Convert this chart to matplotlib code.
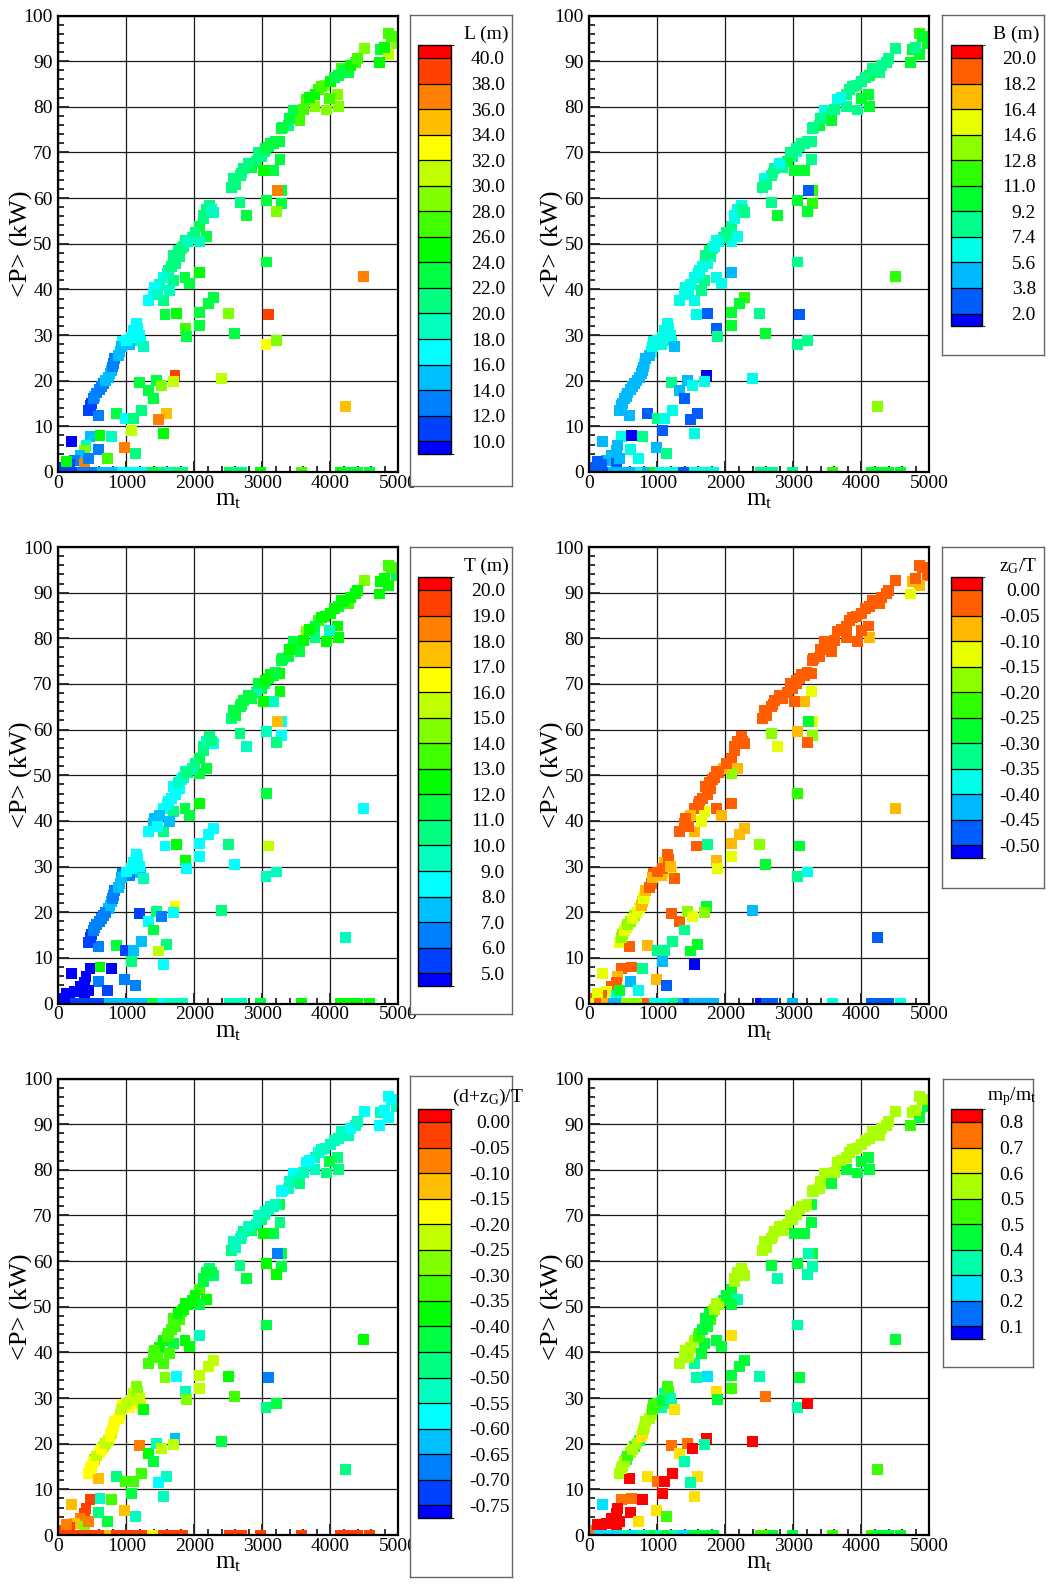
import numpy as np
import matplotlib
matplotlib.use('Agg')
import matplotlib.pyplot as plt
from matplotlib.colors import ListedColormap, BoundaryNorm, hsv_to_rgb
from matplotlib.cm import ScalarMappable
from matplotlib.ticker import MultipleLocator

plt.rcParams['font.family'] = ['Liberation Serif', 'DejaVu Sans']
plt.rcParams['mathtext.default'] = 'regular'

# ---------------- data ----------------
m_t = [4853, 4975, 4500, 4745, 4853, 4720, 4368, 4265, 4167, 4118,
       4108, 4118, 3995, 3946, 3922, 3824, 3775, 3652, 3775, 3456,
       3554, 3554, 3382, 3284, 3260, 3162, 3088, 3039, 2990, 2917,
       3260, 2843, 2721, 2682, 2574, 2549, 3162, 3015, 2672, 2770,
       3064, 3284, 3226, 3284, 3211, 2279, 2230, 2132, 2083, 2181,
       2083, 1975, 1863, 1814, 1779, 1730, 1618, 1544, 1691, 1485,
       1397, 1324, 1544, 1642, 2083, 1863, 1936, 3064, 2279, 2206,
       2083, 1569, 1740, 2500, 3088, 2083, 1873, 1887, 2588, 3054,
       3211, 4495, 1152, 1103, 1128, 1211, 1250, 946, 1054, 907,
       809, 784, 735, 662, 603, 539, 490, 441, 588, 1201,
       1324, 1446, 1520, 1397, 1716, 1691, 2402, 858, 995, 1103,
       1226, 1593, 1480, 1079, 1549, 4230, 196, 466, 613, 784,
       407, 392, 598, 980, 1137, 725, 319, 245, 172, 74,
       392, 123, 441,
       50, 150, 250, 350, 450, 550, 650, 750, 850, 950, 1050, 1150, 1250, 1380,
       1450, 1550, 1650, 1750, 1830, 2520, 2600, 2700, 2980, 3570, 4150, 4250, 4400, 4570,
       470, 515, 560, 630, 700, 760, 800, 830, 880, 930, 1000, 1080, 1170, 1190,
       1420, 1460, 1600, 1660, 1700, 1760, 1840, 1900, 2010, 2130, 2180, 2250,
       2600, 2700, 2800, 2950, 3050, 3120, 3200, 3300, 3400, 3600, 3700, 3870, 4000, 4060,
       4200, 4300, 4400, 4800, 4900]

P_kW = [96.0, 93.8, 92.7, 92.5, 91.5, 89.7, 89.8, 87.6, 88.3, 86.9,
        82.7, 80.1, 81.8, 79.3, 84.7, 83.8, 82.6, 81.6, 80.1, 79.3,
        78.6, 77.0, 75.9, 75.2, 72.3, 71.9, 71.2, 70.1, 69.1, 68.1,
        68.4, 66.8, 66.4, 65.0, 64.2, 62.4, 66.1, 66.1, 59.1, 56.2,
        59.5, 61.7, 61.7, 58.8, 57.1, 56.9, 58.4, 56.2, 53.7, 51.5,
        50.4, 51.4, 50.8, 49.0, 47.1, 45.7, 44.2, 42.7, 42.0, 41.1,
        39.4, 37.6, 37.6, 39.8, 43.8, 42.7, 41.2, 46.0, 38.3, 37.0,
        35.0, 34.5, 34.8, 34.8, 34.5, 32.1, 31.4, 29.6, 30.4, 27.9,
        28.8, 42.8, 32.6, 31.0, 29.6, 28.7, 27.4, 28.5, 28.0, 26.3,
        23.7, 22.3, 20.8, 19.3, 18.0, 16.6, 15.1, 13.4, 12.4, 19.7,
        17.9, 20.1, 19.0, 16.1, 21.2, 19.9, 20.4, 12.8, 11.7, 11.7,
        13.5, 12.9, 11.5, 9.1, 8.5, 14.4, 6.6, 7.7, 8.0, 7.7,
        5.9, 4.7, 4.9, 5.3, 4.0, 2.9, 3.7, 2.6, 1.7, 1.1,
        1.8, 2.2, 2.9,
        0, 0, 0, 0, 0, 0, 0, 0, 0, 0, 0, 0, 0, 0,
        0, 0, 0, 0, 0, 0, 0, 0, 0, 0, 0, 0, 0, 0,
        14.5, 16.0, 17.3, 18.7, 20.0, 21.5, 23.0, 24.8, 25.5, 27.5, 28.8, 29.5, 31.5, 30.0,
        40.5, 38.8, 43.5, 45.0, 47.5, 48.5, 49.5, 50.5, 52.5, 55.5, 57.5, 57.5,
        63.0, 65.5, 67.5, 70.0, 70.8, 72.0, 72.5, 75.5, 77.5, 79.5, 82.0, 84.5, 85.5, 86.5,
        88.0, 89.0, 90.5, 93.0, 95.5]

L_m = [27, 29, 29, 23, 31, 25, 27, 23, 27, 23,
       29, 29, 27, 29, 29, 27, 25, 27, 29, 23,
       23, 27, 21, 23, 23, 23, 23, 21, 21, 21,
       23, 23, 21, 21, 21, 21, 23, 25, 21, 23,
       23, 23, 37, 23, 29, 19, 21, 21, 23, 23,
       19, 19, 21, 21, 21, 21, 21, 17, 21, 19,
       17, 17, 21, 19, 25, 23, 23, 23, 23, 23,
       23, 23, 25, 29, 39, 23, 27, 23, 23, 33,
       29, 37, 17, 17, 19, 19, 19, 17, 15, 15,
       13, 15, 15, 13, 13, 15, 11, 11, 13, 23,
       23, 23, 29, 23, 39, 31, 31, 23, 17, 21,
       21, 35, 37, 31, 25, 35, 9, 15, 25, 19,
       19, 29, 13, 37, 21, 27, 15, 13, 11, 11,
       37, 25, 13,
       11, 11, 11, 13, 13, 13, 15, 15, 15, 17, 17, 17, 17, 23,
       23, 21, 19, 21, 21, 23, 21, 21, 25, 27, 25, 23, 23, 23,
       11, 13, 13, 13, 15, 15, 13, 13, 15, 15, 17, 17, 17, 17,
       17, 19, 19, 21, 21, 21, 21, 19, 21, 21, 21, 19,
       21, 21, 21, 21, 23, 23, 23, 23, 23, 27, 25, 27, 25, 23,
       23, 25, 27, 25, 27]

B_m = [11.9, 10.1, 8.3, 10.1, 10.1, 10.1, 8.3, 8.3, 8.3, 10.1,
       10.1, 10.1, 10.1, 8.3, 8.3, 8.3, 8.3, 6.5, 8.3, 6.5,
       8.3, 10.1, 10.1, 8.3, 8.3, 8.3, 8.3, 6.5, 8.3, 10.1,
       8.3, 8.3, 8.3, 8.3, 6.5, 8.3, 10.1, 10.1, 8.3, 10.1,
       10.1, 11.9, 2.9, 11.9, 10.1, 8.3, 6.5, 6.5, 8.3, 6.5,
       6.5, 8.3, 6.5, 8.3, 8.3, 6.5, 6.5, 6.5, 8.3, 6.5,
       6.5, 6.5, 6.5, 8.3, 4.7, 6.5, 6.5, 8.3, 11.9, 10.1,
       10.1, 6.5, 2.9, 8.3, 2.9, 10.1, 2.9, 8.3, 10.1, 8.3,
       8.3, 11.9, 6.5, 6.5, 8.3, 8.3, 4.7, 6.5, 6.5, 6.5,
       6.5, 4.7, 4.7, 4.7, 4.7, 4.7, 4.7, 4.7, 4.7, 8.3,
       4.7, 4.7, 6.5, 2.9, 1.5, 6.5, 6.5, 2.9, 8.3, 6.5,
       6.5, 2.9, 2.9, 2.9, 6.5, 13.7, 4.7, 6.5, 1.5, 8.3,
       4.7, 4.7, 6.5, 4.7, 8.3, 6.5, 4.7, 4.7, 2.9, 2.9,
       2.9, 2.9, 4.7,
       2.9, 2.9, 2.9, 4.7, 4.7, 4.7, 4.7, 6.5, 4.7, 10.1, 6.5, 6.5, 6.5, 2.9,
       2.9, 6.5, 6.5, 6.5, 6.5, 8.3, 8.3, 8.3, 8.3, 11.9, 10.1, 10.1, 10.1, 10.1,
       4.7, 4.7, 4.7, 4.7, 4.7, 4.7, 4.7, 4.7, 4.7, 6.5, 6.5, 6.5, 6.5, 6.5,
       6.5, 6.5, 6.5, 6.5, 8.3, 8.3, 6.5, 6.5, 8.3, 6.5, 6.5, 8.3,
       8.3, 8.3, 6.5, 8.3, 8.3, 8.3, 8.3, 8.3, 8.3, 8.3, 6.5, 8.3, 8.3, 8.3,
       8.3, 8.3, 8.3, 8.3, 10.1]

T_m = [13.5, 11.5, 14.5, 12.5, 12.5, 12.5, 12.5, 13.5, 12.5, 11.5,
       12.5, 12.5, 9.5, 12.5, 12.5, 13.5, 11.5, 14.5, 10.5, 11.5,
       11.5, 11.5, 11.5, 11.5, 12.5, 11.5, 11.5, 10.5, 11.5, 9.5,
       12.5, 11.5, 11.5, 11.5, 11.5, 10.5, 9.5, 12.5, 10.5, 9.5,
       9.5, 8.5, 17.5, 8.5, 10.5, 8.5, 10.5, 10.5, 11.5, 11.5,
       11.5, 9.5, 9.5, 8.5, 8.5, 8.5, 8.5, 8.5, 10.5, 7.5,
       7.5, 8.5, 10.5, 7.5, 12.5, 11.5, 11.5, 11.5, 8.5, 8.5,
       8.5, 8.5, 12.5, 10.5, 15.5, 8.5, 12.5, 8.5, 8.5, 9.5,
       9.5, 8.5, 8.5, 8.5, 7.5, 7.5, 9.5, 6.5, 6.5, 7.5,
       6.5, 7.5, 7.5, 6.5, 6.5, 6.5, 5.5, 5.5, 6.5, 5.5,
       8.5, 10.5, 6.5, 11.5, 16.5, 8.5, 10.5, 11.5, 5.5, 7.5,
       7.5, 10.5, 15.5, 10.5, 8.5, 9.5, 4.7, 4.7, 12.5, 4.7,
       4.7, 4.7, 6.5, 6.5, 6.5, 5.5, 4.7, 4.7, 4.7, 4.7,
       4.7, 4.7, 4.7,
       4.7, 4.7, 5.5, 5.5, 5.5, 5.5, 5.5, 7.5, 7.5, 7.5, 7.5, 7.5, 7.5, 11.5,
       11.5, 8.5, 9.5, 9.5, 9.5, 9.5, 9.5, 9.5, 11.5, 12.5, 12.5, 12.5, 12.5, 12.5,
       5.5, 6.5, 6.5, 6.5, 6.5, 7.5, 6.5, 6.5, 7.5, 7.5, 8.5, 8.5, 8.5, 8.5,
       7.5, 8.5, 8.5, 8.5, 8.5, 9.5, 9.5, 10.5, 10.5, 10.5, 9.5, 10.5,
       11.5, 11.5, 11.5, 11.5, 12.5, 12.5, 11.5, 11.5, 12.5, 12.5, 12.5, 12.5, 12.5, 12.5,
       12.5, 12.5, 12.5, 12.5, 13.5]

zG_T = [-0.02, -0.02, -0.02, -0.07, -0.07, -0.12, -0.02, -0.02, -0.02, -0.02,
        -0.02, -0.07, -0.02, -0.02, -0.02, -0.02, -0.02, -0.02, -0.02, -0.02,
        -0.02, -0.02, -0.02, -0.02, -0.02, -0.02, -0.02, -0.02, -0.02, -0.02,
        -0.12, -0.02, -0.02, -0.02, -0.02, -0.02, -0.07, -0.02, -0.17, -0.12,
        -0.07, -0.12, -0.27, -0.17, -0.02, -0.02, -0.02, -0.02, -0.02, -0.07,
        -0.17, -0.07, -0.02, -0.02, -0.02, -0.02, -0.02, -0.02, -0.12, -0.07,
        -0.02, -0.02, -0.07, -0.12, -0.02, -0.02, -0.07, -0.22, -0.07, -0.07,
        -0.07, -0.02, -0.32, -0.17, -0.27, -0.12, -0.07, -0.12, -0.27, -0.32,
        -0.37, -0.07, -0.02, -0.07, -0.02, -0.12, -0.02, -0.02, -0.07, -0.02,
        -0.12, -0.07, -0.12, -0.17, -0.17, -0.12, -0.17, -0.12, -0.02, -0.02,
        -0.02, -0.17, -0.12, -0.32, -0.27, -0.17, -0.42, -0.07, -0.32, -0.32,
        -0.32, -0.27, -0.27, -0.42, -0.52, -0.47, -0.12, -0.02, -0.02, -0.32,
        -0.07, -0.02, -0.42, -0.07, -0.47, -0.37, -0.02, -0.12, -0.02, -0.02,
        -0.37, -0.12, -0.27,
        -0.12, -0.02, -0.07, -0.42, -0.42, -0.17, -0.17, -0.17, -0.02, -0.37, -0.37, -0.37, -0.32, -0.42,
        -0.47, -0.42, -0.42, -0.42, -0.42, -0.52, -0.47, -0.47, -0.42, -0.37, -0.47, -0.47, -0.47, -0.37,
        -0.17, -0.12, -0.17, -0.12, -0.12, -0.07, -0.12, -0.07, -0.02, -0.07, -0.02, -0.02, -0.02, -0.07,
        -0.02, -0.02, -0.02, -0.02, -0.02, -0.02, -0.02, -0.02, -0.02, -0.02, -0.02, -0.02,
        -0.02, -0.02, -0.02, -0.02, -0.02, -0.02, -0.02, -0.02, -0.02, -0.02, -0.02, -0.02, -0.02, -0.02,
        -0.02, -0.02, -0.02, -0.02, -0.02]

dzG_T = [-0.57, -0.52, -0.57, -0.52, -0.57, -0.57, -0.52, -0.52, -0.52, -0.52,
         -0.47, -0.47, -0.42, -0.47, -0.52, -0.57, -0.52, -0.57, -0.52, -0.57,
         -0.52, -0.47, -0.52, -0.57, -0.42, -0.52, -0.52, -0.52, -0.47, -0.52,
         -0.47, -0.47, -0.47, -0.47, -0.52, -0.47, -0.42, -0.37, -0.47, -0.42,
         -0.37, -0.42, -0.67, -0.42, -0.37, -0.47, -0.47, -0.42, -0.32, -0.37,
         -0.42, -0.37, -0.37, -0.32, -0.32, -0.32, -0.32, -0.37, -0.42, -0.37,
         -0.32, -0.32, -0.32, -0.32, -0.52, -0.37, -0.37, -0.42, -0.22, -0.22,
         -0.22, -0.27, -0.57, -0.37, -0.67, -0.22, -0.52, -0.27, -0.32, -0.47,
         -0.42, -0.37, -0.27, -0.22, -0.22, -0.17, -0.37, -0.17, -0.17, -0.22,
         -0.17, -0.22, -0.22, -0.22, -0.17, -0.12, -0.17, -0.17, -0.12, -0.07,
         -0.37, -0.52, -0.22, -0.42, -0.62, -0.22, -0.42, -0.47, -0.32, -0.32,
         -0.32, -0.52, -0.57, -0.42, -0.52, -0.47, -0.12, -0.02, -0.52, -0.32,
         -0.02, -0.02, -0.47, -0.12, -0.52, -0.42, -0.07, -0.12, -0.02, -0.02,
         -0.27, -0.07, -0.07,
         -0.02, -0.02, -0.02, -0.02, -0.02, -0.02, -0.02, -0.12, -0.02, -0.02, -0.02, -0.02, -0.02, -0.17,
         -0.17, -0.02, -0.02, -0.02, -0.02, -0.02, -0.02, -0.02, -0.02, -0.02, -0.02, -0.02, -0.02, -0.02,
         -0.17, -0.17, -0.22, -0.17, -0.22, -0.17, -0.17, -0.17, -0.17, -0.22, -0.22, -0.22, -0.27, -0.22,
         -0.32, -0.32, -0.32, -0.32, -0.32, -0.37, -0.37, -0.37, -0.37, -0.42, -0.42, -0.42,
         -0.52, -0.52, -0.52, -0.52, -0.52, -0.52, -0.52, -0.57, -0.52, -0.52, -0.57, -0.52, -0.52, -0.52,
         -0.52, -0.57, -0.52, -0.57, -0.57]

mp_mt = [0.58, 0.41, 0.58, 0.58, 0.41, 0.49, 0.58, 0.58, 0.58, 0.58,
         0.41, 0.41, 0.41, 0.41, 0.58, 0.58, 0.58, 0.58, 0.41, 0.58,
         0.58, 0.41, 0.58, 0.58, 0.41, 0.58, 0.58, 0.58, 0.58, 0.58,
         0.41, 0.58, 0.58, 0.58, 0.58, 0.58, 0.41, 0.41, 0.41, 0.32,
         0.41, 0.41, 0.32, 0.32, 0.32, 0.58, 0.58, 0.58, 0.41, 0.32,
         0.41, 0.41, 0.58, 0.49, 0.49, 0.41, 0.49, 0.58, 0.41, 0.58,
         0.58, 0.58, 0.32, 0.41, 0.67, 0.41, 0.41, 0.32, 0.41, 0.41,
         0.41, 0.32, 0.23, 0.32, 0.41, 0.49, 0.67, 0.41, 0.76, 0.32,
         0.85, 0.41, 0.49, 0.32, 0.32, 0.32, 0.67, 0.49, 0.32, 0.58,
         0.67, 0.67, 0.32, 0.49, 0.58, 0.32, 0.58, 0.58, 0.85, 0.76,
         0.67, 0.76, 0.85, 0.32, 0.85, 0.32, 0.85, 0.67, 0.76, 0.85,
         0.85, 0.67, 0.32, 0.85, 0.67, 0.49, 0.23, 0.76, 0.76, 0.85,
         0.85, 0.85, 0.85, 0.67, 0.49, 0.67, 0.85, 0.85, 0.85, 0.76,
         0.85, 0.85, 0.85,
         0.76, 0.23, 0.23, 0.23, 0.23, 0.32, 0.23, 0.32, 0.32, 0.41, 0.32, 0.41, 0.32, 0.23,
         0.23, 0.41, 0.41, 0.41, 0.41, 0.49, 0.49, 0.41, 0.41, 0.49, 0.49, 0.41, 0.41, 0.41,
         0.58, 0.58, 0.49, 0.58, 0.58, 0.67, 0.58, 0.58, 0.58, 0.49, 0.49, 0.41, 0.49, 0.32,
         0.58, 0.58, 0.49, 0.41, 0.41, 0.41, 0.58, 0.58, 0.41, 0.58, 0.58, 0.58,
         0.58, 0.58, 0.58, 0.58, 0.58, 0.58, 0.58, 0.58, 0.58, 0.58, 0.58, 0.58, 0.58, 0.58,
         0.58, 0.58, 0.58, 0.58, 0.58]

# legend levels (top to bottom) and their printed labels
L_levels = [40.0, 38.0, 36.0, 34.0, 32.0, 30.0, 28.0, 26.0, 24.0, 22.0, 20.0, 18.0, 16.0, 14.0, 12.0, 10.0]
B_levels = [20.0, 18.2, 16.4, 14.6, 12.8, 11.0, 9.2, 7.4, 5.6, 3.8, 2.0]
T_levels = [20.0, 19.0, 18.0, 17.0, 16.0, 15.0, 14.0, 13.0, 12.0, 11.0, 10.0, 9.0, 8.0, 7.0, 6.0, 5.0]
zG_levels = [0.00, -0.05, -0.10, -0.15, -0.20, -0.25, -0.30, -0.35, -0.40, -0.45, -0.50]
dzG_levels = [0.00, -0.05, -0.10, -0.15, -0.20, -0.25, -0.30, -0.35, -0.40, -0.45, -0.50,
              -0.55, -0.60, -0.65, -0.70, -0.75]
mp_levels = [0.8, 0.7125, 0.625, 0.5375, 0.45, 0.3625, 0.275, 0.1875, 0.1]
L_labels = ['40.0', '38.0', '36.0', '34.0', '32.0', '30.0', '28.0', '26.0', '24.0', '22.0', '20.0', '18.0', '16.0', '14.0', '12.0', '10.0']
B_labels = ['20.0', '18.2', '16.4', '14.6', '12.8', '11.0', '9.2', '7.4', '5.6', '3.8', '2.0']
T_labels = ['20.0', '19.0', '18.0', '17.0', '16.0', '15.0', '14.0', '13.0', '12.0', '11.0', '10.0', '9.0', '8.0', '7.0', '6.0', '5.0']
zG_labels = ['0.00', '-0.05', '-0.10', '-0.15', '-0.20', '-0.25', '-0.30', '-0.35', '-0.40', '-0.45', '-0.50']
dzG_labels = ['0.00', '-0.05', '-0.10', '-0.15', '-0.20', '-0.25', '-0.30', '-0.35', '-0.40', '-0.45', '-0.50',
              '-0.55', '-0.60', '-0.65', '-0.70', '-0.75']
mp_labels = ['0.8', '0.7', '0.6', '0.5', '0.5', '0.4', '0.3', '0.2', '0.1']

# ---------------- layout ----------------
W, H = 1057, 1585
fig = plt.figure(figsize=(W / 100, H / 100), dpi=100)


def rect(x0, y0, x1, y1):
    return [x0 / W, 1 - y1 / H, (x1 - x0) / W, (y1 - y0) / H]


col_x = [58.3, 589.4]
row_y = [15.5, 547.0, 1078.5]
AX_W, AX_H = 340.0, 456.5

panels = [
    dict(vals=L_m, levels=L_levels, labels=L_labels, title='L (m)', r=0, c=0,
         box=(410, 15, 512, 486), bar=(418, 451), lev0=58.0, lab_r=505, tpos=(486, 34), tha='center'),
    dict(vals=B_m, levels=B_levels, labels=B_labels, title='B (m)', r=0, c=1,
         box=(942, 15, 1044, 355), bar=(951, 982), lev0=58.0, lab_r=1036, tpos=(1016, 34), tha='center'),
    dict(vals=T_m, levels=T_levels, labels=T_labels, title='T (m)', r=1, c=0,
         box=(410, 547, 512, 1014), bar=(418, 451), lev0=590.0, lab_r=505, tpos=(486, 566), tha='center'),
    dict(vals=zG_T, levels=zG_levels, labels=zG_labels, title='z$_G$/T', r=1, c=1,
         box=(942, 547, 1044, 888), bar=(951, 982), lev0=590.0, lab_r=1040, tpos=(1018, 566), tha='center'),
    dict(vals=dzG_T, levels=dzG_levels, labels=dzG_labels, title='(d+z$_G$)/T', r=2, c=0,
         box=(410, 1076, 512, 1577), bar=(418, 451), lev0=1122.0, lab_r=510, tpos=(452, 1097), tha='left'),
    dict(vals=mp_mt, levels=mp_levels, labels=mp_labels, title='m$_p$/m$_t$', r=2, c=1,
         box=(943, 1079, 1033, 1367), bar=(951, 982), lev0=1122.0, lab_r=1024, tpos=(1012, 1097), tha='center'),
]

STEP_PX = 25.55

for p in panels:
    x0 = col_x[p['c']]
    y0 = row_y[p['r']]
    ax = fig.add_axes(rect(x0, y0, x0 + AX_W, y0 + AX_H))

    levs = list(p['levels'])
    nlev = len(levs)
    asc = levs[::-1]
    step = abs(levs[0] - levs[1])
    bounds = [asc[0] - step / 2] + asc + [asc[-1] + step / 2]
    hues = np.linspace(2 / 3, 0, nlev + 1)
    cols = [hsv_to_rgb((h, 1, 1)) for h in hues]
    cmap = ListedColormap(cols)
    norm = BoundaryNorm(bounds, ncolors=nlev + 1, clip=True)

    ax.set_axisbelow(True)
    ax.grid(True, which='major', color='#1a1a1a', linewidth=0.9)
    ax.scatter(m_t, P_kW, c=p['vals'], cmap=cmap, norm=norm, marker='s', s=62,
               linewidths=0, zorder=2)
    ax.set_xlim(0, 5000)
    ax.set_ylim(0, 100)
    ax.xaxis.set_major_locator(MultipleLocator(1000))
    ax.xaxis.set_minor_locator(MultipleLocator(200))
    ax.yaxis.set_major_locator(MultipleLocator(10))
    ax.yaxis.set_minor_locator(MultipleLocator(2))
    ax.tick_params(which='both', direction='in', top=False, right=False,
                   labelsize=14, width=1.3, color='#222222')
    ax.tick_params(which='major', length=8)
    ax.tick_params(which='minor', length=4.5)
    ax.tick_params(axis='y', pad=4)
    ax.tick_params(axis='x', pad=2)
    for s in ax.spines.values():
        s.set_linewidth(1.6)
    ax.set_ylabel('<P> (kW)', fontsize=19)
    ax.set_xlabel('m$_t$', fontsize=18)
    ax.yaxis.set_label_coords(-0.075, 0.5)
    ax.xaxis.set_label_coords(0.5, -0.038)

    # legend box
    bx0, by0, bx1, by1 = p['box']
    bax = fig.add_axes(rect(bx0, by0, bx1, by1))
    bax.set_facecolor('white')
    bax.set_xticks([])
    bax.set_yticks([])
    for s in bax.spines.values():
        s.set_linewidth(1.0)
        s.set_color('#666666')

    # colour bar
    bar_top = p['lev0'] - STEP_PX / 2
    bar_bot = p['lev0'] + STEP_PX * (nlev - 1) + STEP_PX / 2
    cax = fig.add_axes(rect(p['bar'][0], bar_top, p['bar'][1], bar_bot))
    cb = fig.colorbar(ScalarMappable(norm=norm, cmap=cmap), cax=cax,
                      spacing='proportional', drawedges=True, ticks=asc)
    cb.outline.set_linewidth(1.0)
    cb.dividers.set_linewidth(0.9)
    cb.dividers.set_color('black')
    pad_pt = (p['lab_r'] - p['bar'][1]) * 0.72
    cax.tick_params(length=0, labelsize=14, pad=pad_pt)
    cax.set_yticks(asc)
    cax.set_yticklabels(p['labels'][::-1], ha='right')

    fig.text(p['tpos'][0] / W, 1 - p['tpos'][1] / H, p['title'], fontsize=14,
             ha=p['tha'], va='center')

fig.savefig('out.png', dpi=100)
